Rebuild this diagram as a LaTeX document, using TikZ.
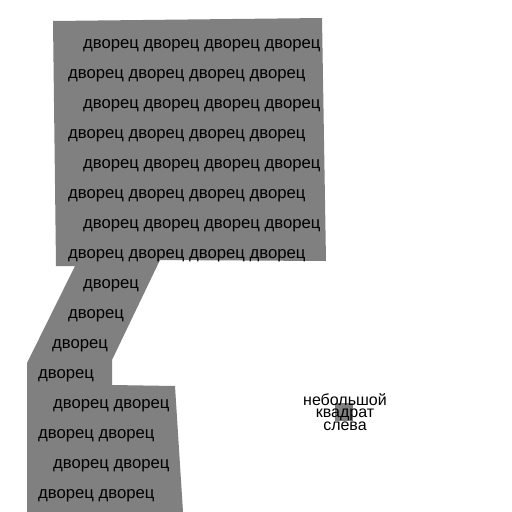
\documentclass[tikz,border=0pt]{standalone}
\usepackage{fontspec}
\setmainfont{Liberation Sans}
\begin{document}
\begin{tikzpicture}[x=1pt,y=-1pt,
  word/.style={anchor=base west,inner sep=0pt,font=\fontsize{16.7}{17}\selectfont},
  small/.style={align=center,inner sep=0pt,font=\fontsize{16}{12.2}\selectfont},
  shade/.style={fill=gray}]
\useasboundingbox (0,0) rectangle (512,512);
\fill[shade] (53,21) -- (322,18) -- (326,261) -- (160,260) -- (112,360) -- (112,385)
  -- (175,386) -- (183,512) -- (27,512) -- (27,363) -- (75,266) -- (56,266) -- cycle;
\foreach \i in {0,...,3}{
  \node[word] (a\i) at (83,{48+60*\i}) {дворец дворец дворец дворец};
  \node[word] (b\i) at (68,{78+60*\i}) {дворец дворец дворец дворец};
}
\node[word] (c1) at (83,288) {дворец};
\node[word] (c2) at (68,318) {дворец};
\node[word] (c3) at (52,348) {дворец};
\node[word] (c4) at (38,378) {дворец};
\foreach \i in {0,1}{
  \node[word] (d\i) at (53,{408+60*\i}) {дворец дворец};
  \node[word] (e\i) at (38,{438+60*\i}) {дворец дворец};
}
\fill[shade] (335,403) rectangle (353,421);
\node[small] (lbl) at (345,412) {небольшой\\квадрат\\слева};
\end{tikzpicture}
\end{document}
